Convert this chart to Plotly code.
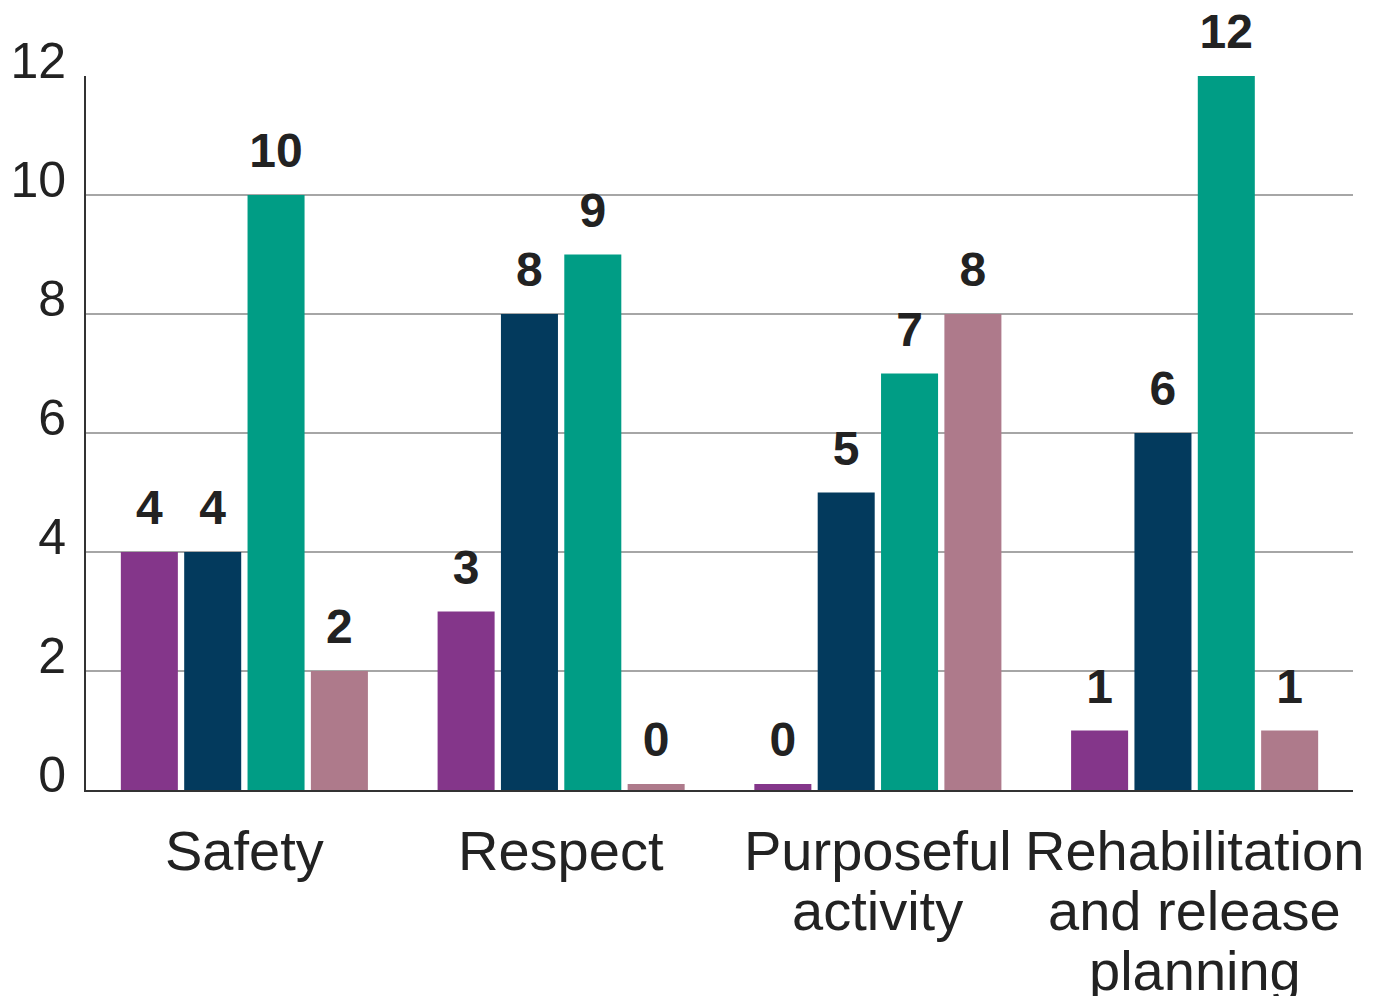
import plotly.graph_objects as go

categories = ["Safety", "Respect", "Purposeful activity", "Rehabilitation and release planning"]
category_lines = [["Safety"], ["Respect"], ["Purposeful", "activity"], ["Rehabilitation", "and release", "planning"]]

series_a = [4, 3, 0, 1]
series_b = [4, 8, 5, 6]
series_c = [10, 9, 7, 12]
series_d = [2, 0, 8, 1]

series = [series_a, series_b, series_c, series_d]
colors = ["#84368A", "#033A5D", "#009D85", "#AE7A8B"]

# zero values still get a thin visible stub
MIN_STUB = 0.1

fig = go.Figure()
for i, (vals, col) in enumerate(zip(series, colors)):
    fig.add_trace(go.Bar(
        x=categories,
        y=[max(v, MIN_STUB) for v in vals],
        marker=dict(color=col, line=dict(width=0)),
        offsetgroup=str(i),
        hoverinfo="skip",
        showlegend=False,
    ))

# value labels, grouped the same way as the bars
for i, vals in enumerate(series):
    fig.add_trace(go.Scatter(
        x=categories,
        y=[max(v, MIN_STUB) for v in vals],
        mode="markers+text",
        text=[str(v) for v in vals],
        textposition="top center",
        textfont=dict(family="Liberation Sans", size=48, color="#222222", weight="bold"),
        marker=dict(size=24, opacity=0),
        offsetgroup=str(i),
        hoverinfo="skip",
        showlegend=False,
        cliponaxis=False,
    ))

# category labels, one annotation per line
for cat, lines in zip(categories, category_lines):
    for k, line in enumerate(lines):
        fig.add_annotation(
            x=cat, y=0, xref="x", yref="y",
            text=line, showarrow=False,
            yanchor="middle", yshift=-(60 + 60 * k),
            font=dict(family="Liberation Sans", size=56, color="#222222"),
        )

fig.update_layout(
    width=1384, height=996,
    margin=dict(l=86, r=31, t=76, b=206, autoexpand=False),
    paper_bgcolor="white", plot_bgcolor="white",
    barmode="group", bargap=0.2, bargroupgap=0.1,
    scattermode="group",
)
fig.update_xaxes(
    range=[-0.5, len(categories) - 0.5],
    showticklabels=False, showgrid=False,
    showline=True, linecolor="#333333", linewidth=2,
    ticks="", automargin=False,
)
fig.update_yaxes(
    range=[0, 12], dtick=2, tick0=0,
    showgrid=True, gridcolor="#A6A6A6", gridwidth=1.5,
    showline=True, linecolor="#333333", linewidth=2,
    zeroline=False, ticks="", automargin=False,
    tickfont=dict(family="Liberation Sans", size=50, color="#222222"),
    ticklabelstandoff=8, ticklabelshift=-16,
)

fig.write_html("out.html")
